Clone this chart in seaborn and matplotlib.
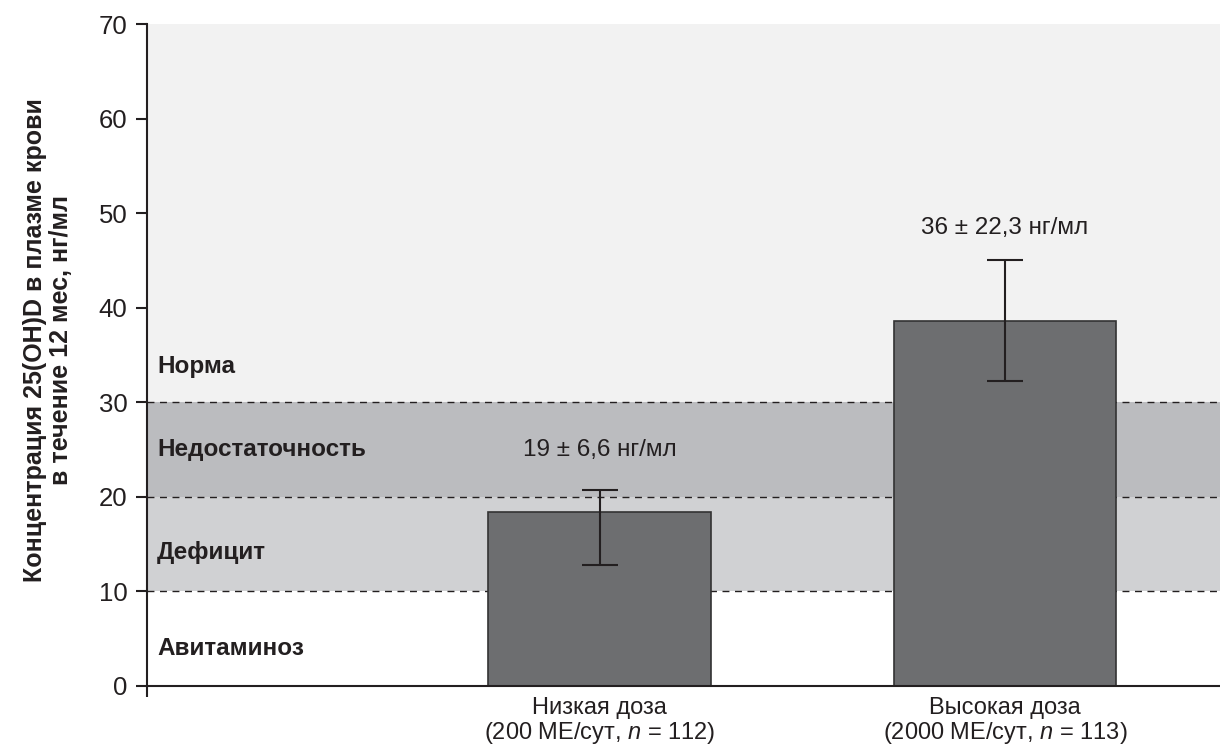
import matplotlib
matplotlib.use("Agg")
import matplotlib.pyplot as plt
import seaborn as sns
import pandas as pd

# ---- data ----
categories = ["Низкая доза\n(200 МЕ/сут, $n$ = 112)", "Высокая доза\n(2000 МЕ/сут, $n$ = 113)"]
means = [18.4, 38.6]
err_low = [12.8, 32.2]
err_high = [20.7, 45.0]
annotations = ["19 ± 6,6 нг/мл", "36 ± 22,3 нг/мл"]
annot_y = [25.0, 48.4]
zone_edges = [0, 10, 20, 30, 70]
zone_names = ["Авитаминоз", "Дефицит", "Недостаточность", "Норма"]
zone_label_y = [4.0, 14.1, 25.0, 33.8]
yticks = [0, 10, 20, 30, 40, 50, 60, 70]

sns.set_theme(style="white")
plt.rcParams["font.family"] = ["Liberation Sans", "DejaVu Sans"]
plt.rcParams["mathtext.fontset"] = "custom"
plt.rcParams["mathtext.it"] = "Liberation Sans:italic"
plt.rcParams["mathtext.rm"] = "Liberation Sans"

ink = "#231f20"
zone_colors = ["#ffffff", "#d0d1d3", "#bbbcbf", "#f2f2f2"]

fig = plt.figure(figsize=(12.2, 7.51), dpi=100)
ax = fig.add_axes([0.1205, 0.0866, 0.8795, 0.8814])

df = pd.DataFrame({"cat": categories, "val": means})

xmin, xmax = -1.118, 1.531
# background zones
for i in range(4):
    ax.axhspan(zone_edges[i], zone_edges[i + 1], color=zone_colors[i], zorder=0, lw=0)
for e in zone_edges[1:4]:
    ax.axhline(e, color=ink, lw=1.0, ls=(0, (5, 4)), zorder=1)

sns.barplot(data=df, x="cat", y="val", color="#6d6e70", width=0.55,
            edgecolor="#333333", linewidth=1.2, saturation=1, ax=ax, zorder=2)

xs = list(range(len(categories)))
lower = [m - l for m, l in zip(means, err_low)]
upper = [h - m for m, h in zip(means, err_high)]
ax.errorbar(xs, means, yerr=[lower, upper], fmt="none", ecolor=ink,
            elinewidth=1.5, capsize=13, capthick=1.5, zorder=3)

for x, t, y in zip(xs, annotations, annot_y):
    ax.text(x, y, t, ha="center", va="center", fontsize=17.5, color=ink, zorder=4)

for name, y in zip(zone_names, zone_label_y):
    ax.text(xmin + 0.025, y, name, ha="left", va="center", fontsize=17.5,
            fontweight="bold", color=ink, zorder=4)

ax.set_xlim(xmin, xmax)
ax.set_ylim(0, 70)
ax.set_yticks(yticks)
ax.set_yticklabels([str(v) for v in yticks], fontsize=18.5, color=ink)
ax.tick_params(axis="y", direction="out", length=8, width=1.5, color=ink, pad=6, left=True)
ax.tick_params(axis="x", length=0, pad=8, labelsize=17, labelcolor=ink)
ax.set_xticks(xs)
ax.set_xticklabels(categories, linespacing=1.05)
ax.set_xticks([xmin], minor=True)
ax.tick_params(axis="x", which="minor", direction="out", length=8, width=1.5, color=ink, bottom=True)

ax.set_xlabel("")
ax.set_ylabel("Концентрация 25(OH)D в плазме крови\nв течение 12 мес, нг/мл",
              fontsize=18, fontweight="bold", color=ink, linespacing=1.1)
ax.yaxis.set_label_coords(-0.069, 0.523)

for s in ["top", "right"]:
    ax.spines[s].set_visible(False)
for s in ["left", "bottom"]:
    ax.spines[s].set_color(ink)
    ax.spines[s].set_linewidth(1.5)
    ax.spines[s].set_zorder(5)

fig.savefig("out.png", dpi=100)
